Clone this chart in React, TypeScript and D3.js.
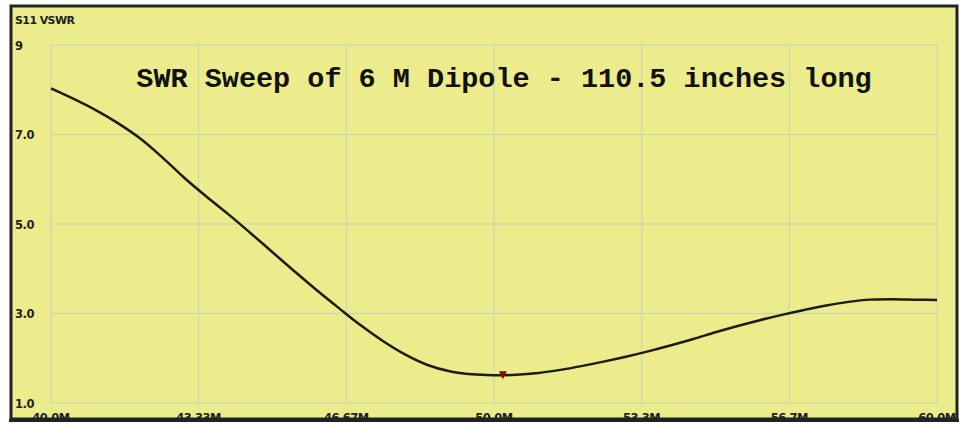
import React, { useEffect, useRef } from 'react';
import * as d3 from 'd3';

// sweep data (MHz, VSWR)
const freqs = [
  40.0, 40.5, 41.0, 41.5, 42.0, 42.5, 43.0, 43.5, 44.0, 44.5, 45.0, 45.5, 46.0, 46.5,
  47.0, 47.5, 48.0, 48.5, 49.0, 49.5, 50.0, 50.5, 51.0, 51.5, 52.0, 52.5, 53.0, 53.5, 54.0,
  54.5, 55.0, 55.5, 56.0, 56.5, 57.0, 57.5, 58.0, 58.5, 59.0, 59.5, 60.0,
];
const vswr = [
  8.03, 7.8, 7.55, 7.26, 6.92, 6.5, 6.04, 5.62, 5.22, 4.8, 4.37, 3.94, 3.52, 3.12,
  2.73, 2.38, 2.08, 1.85, 1.71, 1.64, 1.62, 1.63, 1.67, 1.74, 1.83, 1.93, 2.04, 2.16, 2.29,
  2.43, 2.58, 2.72, 2.85, 2.97, 3.08, 3.18, 3.26, 3.31, 3.32, 3.31, 3.3,
];
const xTicks = [40.0, 43.333, 46.667, 50.0, 53.333, 56.667, 60.0];
const xTickLabels = ['40.0M', '43.33M', '46.67M', '50.0M', '53.3M', '56.7M', '60.0M'];
const yTicks = [1, 3, 5, 7, 9];
const yTickLabels = ['1.0', '3.0', '5.0', '7.0', '9'];
const marker = { freq: 50.2, value: 1.62 };
const title = 'SWR Sweep of 6 M Dipole - 110.5 inches long';

export default function App() {
  const svgRef = useRef<SVGSVGElement>(null);
  const width = 964;
  const height = 424;

  useEffect(() => {
    if (!svgRef.current) return;
    const svg = d3.select(svgRef.current);
    svg.selectAll('*').remove();

    const margin = { top: 45, right: 27, bottom: 21, left: 51 };
    const labelFont = '"DejaVu Sans", Verdana, sans-serif';

    const x = d3.scaleLinear().domain([40, 60]).range([margin.left, width - margin.right]);
    const y = d3.scaleLinear().domain([1, 9]).range([height - margin.bottom, margin.top]);

    // panel
    svg.append('rect').attr('width', width).attr('height', height).attr('fill', '#ffffff');
    svg.append('rect')
      .attr('x', 11).attr('y', 6)
      .attr('width', 946).attr('height', 413)
      .attr('fill', '#ecec8c')
      .attr('stroke', '#222').attr('stroke-width', 3);

    // grid
    const grid = svg.append('g').attr('stroke', '#c4d4bc').attr('stroke-width', 1);
    xTicks.forEach(t => {
      grid.append('line')
        .attr('x1', x(t)).attr('x2', x(t))
        .attr('y1', y(9)).attr('y2', y(1));
    });
    yTicks.forEach(t => {
      grid.append('line')
        .attr('x1', x(40)).attr('x2', x(60))
        .attr('y1', y(t)).attr('y2', y(t));
    });

    // y labels
    svg.append('g')
      .selectAll('text')
      .data(yTicks)
      .enter()
      .append('text')
      .attr('x', 15)
      .attr('y', d => y(d) + 4.5)
      .style('font-family', labelFont)
      .style('font-size', '11.5px')
      .style('font-weight', 'bold')
      .style('letter-spacing', '-0.4px')
      .attr('fill', '#222')
      .text((d, i) => yTickLabels[i]);

    // x labels (clipped by frame)
    svg.append('g')
      .selectAll('text')
      .data(xTicks)
      .enter()
      .append('text')
      .attr('x', d => x(d))
      .attr('y', 421.5)
      .attr('text-anchor', 'middle')
      .style('font-family', labelFont)
      .style('font-size', '11.5px')
      .style('font-weight', 'bold')
      .style('letter-spacing', '-0.5px')
      .attr('fill', '#222')
      .text((d, i) => xTickLabels[i]);

    // redraw bottom frame edge over labels
    svg.append('line')
      .attr('x1', 9).attr('x2', 959)
      .attr('y1', 420.5).attr('y2', 420.5)
      .attr('stroke', '#222').attr('stroke-width', 3);
    svg.append('rect')
      .attr('x', 0).attr('y', 422)
      .attr('width', width).attr('height', 2)
      .attr('fill', '#ffffff');

    svg.append('text')
      .attr('x', 15).attr('y', 24)
      .style('font-family', labelFont)
      .style('font-size', '11px')
      .style('font-weight', 'bold')
      .style('letter-spacing', '-0.6px')
      .attr('fill', '#222')
      .text('S11 VSWR');

    // title
    svg.append('text')
      .attr('x', 504).attr('y', 87)
      .attr('text-anchor', 'middle')
      .style('font-family', '"Liberation Mono", "DejaVu Sans Mono", monospace')
      .style('font-size', '28.5px')
      .style('font-weight', 'bold')
      .attr('fill', '#111')
      .text(title);

    // trace
    const line = d3.line<number>()
      .x((d, i) => x(freqs[i]))
      .y(d => y(d))
      .curve(d3.curveCatmullRom);
    svg.append('path')
      .datum(vswr)
      .attr('d', line)
      .attr('fill', 'none')
      .attr('stroke', '#1c1c10')
      .attr('stroke-width', 2.5);

    // marker
    const mx = x(marker.freq);
    const my = y(marker.value);
    svg.append('path')
      .attr('d', `M${mx - 4},${my - 4}L${mx + 4},${my - 4}L${mx},${my + 4}Z`)
      .attr('fill', '#7a1010');
  }, []);

  return (
    <svg
      ref={svgRef}
      width={width}
      height={height}
      style={{ position: 'absolute', left: 0, top: 0, display: 'block' }}
    />
  );
}
